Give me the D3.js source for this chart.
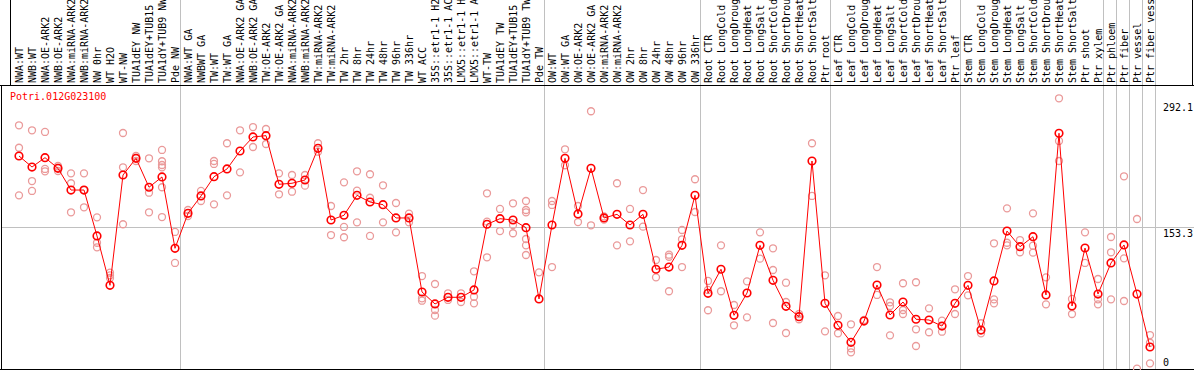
<!DOCTYPE html>
<html lang="en">
<head>
<meta charset="UTF-8">
<title>Potri.012G023100</title>
<script src="https://d3js.org/d3.v7.min.js"></script>
<style>
  body { margin: 0; background: #fff; }
  svg { display: block; }
  text { font-family: "DejaVu Sans Mono", "Liberation Mono", monospace; font-size: 10px; }
</style>
</head>
<body>
<svg id="chart" width="1194" height="370"></svg>
<script>
// Sample labels, one per column
const labels = [
  "NWA:WT", "NWB:WT", "NWA:OE-ARK2", "NWB:OE-ARK2", "NWA:miRNA-ARK2", "NWB:miRNA-ARK2",
  "NW 0hr", "WT H2O", "WT-NW", "TUA1dEY NW", "TUA1dEY+TUB15 NW", "TUA1dY+TUB9 NW", "Pde NW",
  "NWA:WT GA", "NWBWT GA", "TW:WT", "TW:WT GA", "NWA:OE-ARK2 GA", "NWB:OE-ARK2 GA",
  "TW:OE-ARK2", "TW:OE-ARK2 GA", "NWA:miRNA-ARK2", "NWB:miRNA-ARK2", "TW:miRNA-ARK2", "TW:miRNA-ARK2",
  "TW 2hr", "TW 8hr", "TW 24hr", "TW 48hr", "TW 96hr", "TW 336hr", "WT ACC",
  "35S::etr1-1 H2O", "35S::etr1-1 ACC", "LMX5::etr1-1 H2O", "LMX5::etr1-1 ACC",
  "WT-TW", "TUA1dEY TW", "TUA1dEY+TUB15 TW", "TUA1dY+TUB9 TW", "Pde TW",
  "OW:WT", "OW:WT GA", "OW:OE-ARK2", "OW:OE-ARK2 GA", "OW:miRNA-ARK2", "OW:miRNA-ARK2",
  "OW 2hr", "OW 8hr", "OW 24hr", "OW 48hr", "OW 96hr", "OW 336hr",
  "Root CTR", "Root LongCold", "Root LongDrought", "Root LongHeat", "Root LongSalt",
  "Root ShortCold", "Root ShortDrought", "Root ShortHeat", "Root ShortSalt", "Ptr root",
  "Leaf CTR", "Leaf LongCold", "Leaf LongDrought", "Leaf LongHeat", "Leaf LongSalt",
  "Leaf ShortCold", "Leaf ShortDrought", "Leaf ShortHeat", "Leaf ShortSalt", "Ptr leaf",
  "Stem CTR", "Stem LongCold", "Stem LongDrought", "Stem LongHeat", "Stem LongSalt",
  "Stem ShortCold", "Stem ShortDrought", "Stem ShortHeat", "Stem ShortSalt", "Ptr shoot", "Ptr xylem",
  "Ptr phloem", "Ptr fiber", "Ptr vessel", "Ptr fiber vessel"
];

// number of columns in each separated block
const groupSizes = [13, 28, 12, 10, 10, 11, 1, 1, 1, 1];

// mean expression per column
const means = [
  229.6, 217.7, 227.8, 216.3, 192.9, 192.9, 143.4, 90.2, 209.1, 227.1, 195.9, 207.0, 130.1,
  167.8, 186.5, 207.3, 215.6, 235.0, 250.1, 251.5, 199.1, 200.2, 203.7, 237.9, 160.6, 165.7,
  187.2, 180.0, 177.1, 162.8, 162.8, 83.0, 70.1, 77.3, 77.3, 85.2, 156.0, 162.0, 160.6, 152.3, 75.5,
  155.2, 227.1, 167.1, 216.3, 162.8, 166.7, 155.2, 166.7, 107.5, 109.9, 133.3, 187.2,
  81.6, 107.5, 57.9, 81.9, 133.3, 95.6, 67.6, 56.4, 224.2, 70.8,
  47.1, 28.8, 51.7, 90.5, 58.2, 72.2, 53.6, 52.8, 46.3, 70.8,
  90.2, 42.0, 94.9, 148.7, 131.8, 142.6, 79.8, 254.1, 67.9, 130.4, 80.8,
  114.3, 133.7, 80.8, 23.7
];

// individual replicates per column
const reps = [
  [262.7, 238.5, 187.2], [257.3, 202.6, 191.9], [255.5, 215.6, 213.1], [218.8, 216.7, 213.4],
  [210.9, 200.2, 168.9], [210.9, 192.9, 174.3], [163.5, 136.1, 131.2], [103.8, 101.0, 98.1],
  [254.4, 217.4, 156.0], [229.6, 227.4, 224.2], [227.1, 190.0, 168.9],
  [236.1, 223.9, 219.9, 217.4, 195.9, 163.8], [147.7, 114.3],
  [171.4, 164.9], [191.9, 181.1], [224.2, 221.0, 177.5], [243.3, 187.2], [257.3, 212.0],
  [260.8, 239.3], [258.7, 242.5], [210.9, 188.3], [209.1, 191.1], [209.1, 197.6],
  [243.3, 234.2], [175.7, 144.4], [201.2, 153.1, 142.0], [213.1, 192.2, 158.1],
  [209.9, 184.6, 143.4], [198.0, 158.1], [178.9, 147.3], [167.4, 158.1],
  [100.2, 76.2, 73.6], [91.6, 63.6, 57.5], [81.6, 74.4], [81.6, 72.2], [105.3, 77.9, 70.8],
  [189.4, 158.8, 120.4], [172.5, 148.7], [178.6, 155.2, 146.3],
  [181.1, 171.4, 168.9, 140.1, 133.3, 122.9], [104.2],
  [181.1, 176.8, 109.9], [236.8, 219.6], [175.7, 158.4], [277.8, 154.9], [164.5, 161.0],
  [200.2, 133.3], [172.5, 137.6], [192.9, 153.4], [117.5, 98.8], [123.2, 121.0, 83.8],
  [149.8, 139.8, 109.9], [204.5, 169.2],
  [94.9, 85.2, 63.3], [133.3, 83.8], [69.0, 47.1], [94.5, 55.7], [147.3, 118.9],
  [130.1, 106.7, 49.6], [93.0, 72.2, 38.8], [59.3, 53.6], [243.3, 186.5], [101.0, 40.6],
  [57.1, 38.5], [48.2, 22.3, 18.0], [52.8], [109.9, 79.8], [71.9, 67.9, 36.3],
  [92.4, 63.6, 59.3], [93.5, 42.8, 24.8], [65.4, 39.6], [52.1, 40.2], [85.9, 59.3],
  [100.2, 79.4], [49.3, 38.5], [135.5, 75.1, 70.8], [173.2, 136.1, 133.3], [139.0, 125.8],
  [167.8, 132.9, 125.4], [98.8, 69.7], [291.8, 245.8, 224.2], [75.5, 59.3],
  [147.3, 114.3], [97.0, 75.1, 69.7],
  [142.3, 125.8, 75.1], [207.7, 119.3, 73.3], [161.7, 0.3], [36.6, 28.3, 6.1]
];

const yTicks = [0, 153.3, 292.1];
const yMax = 292.1;
const geneName = "Potri.012G023100";

const W = 1194, H = 370;
const headerBottom = 85, plotBottom = 369;

const svg = d3.select("#chart");

const x = d3.scaleBand()
  .domain(d3.range(labels.length))
  .range([11, 11 + 13 * labels.length]);
const cx = i => x(i) + 8;

const y = d3.scaleLinear().domain([0, yMax]).range([plotBottom, 98]);

// group separators (gray)
const bounds = d3.cumsum(groupSizes);
svg.append("g").selectAll("line")
  .data(bounds)
  .enter().append("line")
  .attr("x1", d => x(0) + d * x.bandwidth() + 0.5)
  .attr("x2", d => x(0) + d * x.bandwidth() + 0.5)
  .attr("y1", 0).attr("y2", plotBottom)
  .attr("stroke", "#c0c0c0");

// horizontal grid at the middle tick
svg.append("line")
  .attr("x1", 1).attr("x2", W)
  .attr("y1", Math.round(y(yTicks[1])) + 0.5).attr("y2", Math.round(y(yTicks[1])) + 0.5)
  .attr("stroke", "#c0c0c0");

// frame lines
svg.append("line").attr("x1", 0).attr("x2", W).attr("y1", headerBottom + 0.5).attr("y2", headerBottom + 0.5).attr("stroke", "black");
svg.append("line").attr("x1", 10.5).attr("x2", 10.5).attr("y1", 0).attr("y2", headerBottom).attr("stroke", "black");
svg.append("line").attr("x1", W - 1.5).attr("x2", W - 1.5).attr("y1", 0).attr("y2", headerBottom).attr("stroke", "black");
svg.append("line").attr("x1", 1.5).attr("x2", 1.5).attr("y1", headerBottom).attr("y2", plotBottom).attr("stroke", "black");
svg.append("line").attr("x1", 0).attr("x2", W).attr("y1", plotBottom + 0.5).attr("y2", plotBottom + 0.5).attr("stroke", "black");

// column labels, rotated
svg.append("g").selectAll("text")
  .data(labels)
  .enter().append("text")
  .attr("transform", (d, i) => `translate(${cx(i) + 3.5},${headerBottom - 2}) rotate(-90)`)
  .attr("fill", "black")
  .text(d => d);

// gene name
svg.append("text")
  .attr("x", 10).attr("y", 100)
  .attr("fill", "red")
  .text(geneName);

// y tick labels on the right
const tickDy = [-3, 10, 13];
svg.append("g").selectAll("text")
  .data(yTicks)
  .enter().append("text")
  .attr("x", 1163)
  .attr("y", (d, i) => y(d) + tickDy[i])
  .attr("fill", "black")
  .text(d => d);

// replicates
const repPts = reps.flatMap((r, i) => r.map(v => ({i, v})));
svg.append("g").selectAll("circle")
  .data(repPts)
  .enter().append("circle")
  .attr("cx", d => cx(d.i))
  .attr("cy", d => y(d.v))
  .attr("r", 3.5)
  .attr("fill", "none")
  .attr("stroke", "#ea9a9a")
  .attr("stroke-width", 1.3);

// mean line
const line = d3.line().x((d, i) => cx(i)).y(d => y(d));
svg.append("path")
  .datum(means)
  .attr("d", line)
  .attr("fill", "none")
  .attr("stroke", "red")
  .attr("stroke-width", 1);

svg.append("g").selectAll("circle")
  .data(means)
  .enter().append("circle")
  .attr("cx", (d, i) => cx(i))
  .attr("cy", d => y(d))
  .attr("r", 3.8)
  .attr("fill", "none")
  .attr("stroke", "red")
  .attr("stroke-width", 1.6);
</script>
</body>
</html>
